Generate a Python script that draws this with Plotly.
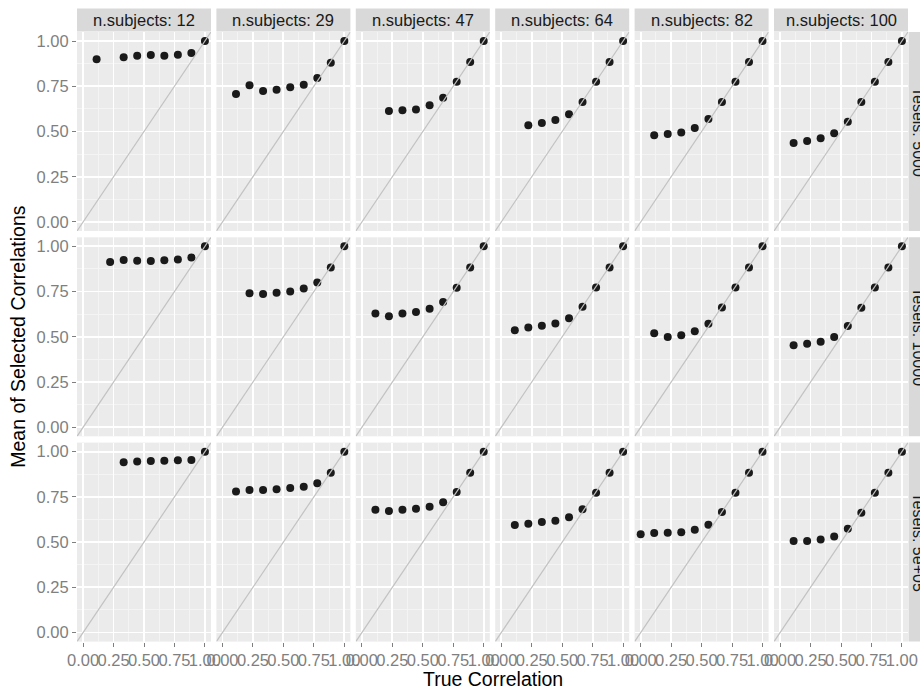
import plotly.graph_objects as go

# ---- data ----
true_corr = [0.0, 0.111, 0.222, 0.333, 0.444, 0.556, 0.667, 0.778, 0.889, 1.0]
n_subjects = [12, 29, 47, 64, 82, 100]
n_tests_labels = ["5000", "10000", "5e+05"]

row_5000 = {
    12:  [None, 0.900, None, 0.910, 0.919, 0.923, 0.919, 0.924, 0.934, 1.0],
    29:  [None, 0.707, 0.755, 0.724, 0.731, 0.744, 0.759, 0.796, 0.880, 1.0],
    47:  [None, None, 0.613, 0.617, 0.622, 0.645, 0.687, 0.775, 0.884, 1.0],
    64:  [None, None, 0.534, 0.547, 0.564, 0.595, 0.663, 0.775, 0.884, 1.0],
    82:  [None, 0.479, 0.486, 0.495, 0.519, 0.569, 0.663, 0.775, 0.884, 1.0],
    100: [None, 0.436, 0.448, 0.462, 0.490, 0.554, 0.663, 0.775, 0.884, 1.0],
}
row_10000 = {
    12:  [None, None, 0.914, 0.925, 0.921, 0.919, 0.923, 0.927, 0.938, 1.0],
    29:  [None, None, 0.741, 0.736, 0.743, 0.750, 0.767, 0.800, 0.883, 1.0],
    47:  [None, 0.629, 0.613, 0.629, 0.637, 0.655, 0.692, 0.771, 0.883, 1.0],
    64:  [None, 0.536, 0.552, 0.561, 0.574, 0.602, 0.666, 0.772, 0.883, 1.0],
    82:  [None, 0.519, 0.499, 0.508, 0.530, 0.572, 0.662, 0.772, 0.883, 1.0],
    100: [None, 0.453, 0.461, 0.472, 0.499, 0.560, 0.661, 0.772, 0.883, 1.0],
}
row_5e05 = {
    12:  [None, None, None, 0.941, 0.945, 0.948, 0.950, 0.952, 0.954, 1.0],
    29:  [None, 0.780, 0.788, 0.788, 0.792, 0.799, 0.806, 0.825, 0.884, 1.0],
    47:  [None, 0.679, 0.672, 0.679, 0.685, 0.696, 0.720, 0.777, 0.884, 1.0],
    64:  [None, 0.594, 0.601, 0.611, 0.618, 0.637, 0.681, 0.773, 0.884, 1.0],
    82:  [0.544, 0.550, 0.552, 0.555, 0.568, 0.596, 0.666, 0.773, 0.884, 1.0],
    100: [None, 0.506, 0.506, 0.515, 0.531, 0.574, 0.662, 0.773, 0.884, 1.0],
}
rows_data = [row_5000, row_10000, row_5e05]

tick_vals = [0.0, 0.25, 0.5, 0.75, 1.0]
tick_text = ["0.00", "0.25", "0.50", "0.75", "1.00"]
minor_vals = [0.125, 0.375, 0.625, 0.875]
axis_range = [-0.05, 1.05]

# ---- layout geometry (pixels) ----
W, H = 920, 691
col_left = [77 + 139.4 * i for i in range(6)]
col_w = 134
row_top = [32, 237.3, 442.6]
row_h = 199

def px_x(p):
    return p / W

def px_y(p):
    return 1 - p / H

FONT = "Liberation Sans, Arial, Helvetica, sans-serif"
PANEL_BG = "#EBEBEB"
STRIP_BG = "#D9D9D9"
TICK_GREY = "#7F7F7F"
TICK_SIZE = 16.5

fig = go.Figure()
layout = dict(
    width=W, height=H,
    margin=dict(l=0, r=0, t=0, b=0),
    paper_bgcolor="white",
    plot_bgcolor=PANEL_BG,
    showlegend=False,
    font=dict(family=FONT, color="#1A1A1A"),
)

shapes = []
annotations = []

k = 0
for r in range(3):
    for c in range(6):
        k += 1
        suffix = "" if k == 1 else str(k)
        xa = "x" + suffix
        ya = "y" + suffix
        n = n_subjects[c]
        yvals = rows_data[r][n]

        fig.add_trace(go.Scatter(
            x=true_corr, y=yvals, mode="markers",
            marker=dict(size=8, color="#1A1A1A", line=dict(width=0)),
            xaxis=xa, yaxis=ya, cliponaxis=False, hoverinfo="skip",
        ))
        # identity line drawn over the points
        fig.add_trace(go.Scatter(
            x=axis_range, y=axis_range, mode="lines",
            line=dict(color="#C2C2C2", width=1.2),
            xaxis=xa, yaxis=ya, hoverinfo="skip",
        ))

        x0, x1 = col_left[c], col_left[c] + col_w
        y0, y1 = row_top[r], row_top[r] + row_h
        bottom = (r == 2)
        left = (c == 0)

        layout["xaxis" + suffix] = dict(
            domain=[px_x(x0), px_x(x1)], anchor=ya, range=axis_range,
            tickmode="array", tickvals=tick_vals, ticktext=tick_text,
            showticklabels=bottom, ticks="outside" if bottom else "",
            ticklen=4, tickwidth=1, tickcolor=TICK_GREY, tickangle=0,
            tickfont=dict(family=FONT, size=TICK_SIZE, color=TICK_GREY),
            showgrid=True, gridcolor="white", gridwidth=1.8,
            minor=dict(tickmode="array", tickvals=minor_vals, showgrid=True,
                       gridcolor="#F5F5F5", gridwidth=0.9, ticks=""),
            zeroline=False, showline=False, automargin=False, fixedrange=True,
        )
        layout["yaxis" + suffix] = dict(
            domain=[px_y(y1), px_y(y0)], anchor=xa, range=axis_range,
            tickmode="array", tickvals=tick_vals, ticktext=tick_text,
            showticklabels=left, ticks="outside" if left else "",
            ticklen=4, tickwidth=1, tickcolor=TICK_GREY,
            tickfont=dict(family=FONT, size=TICK_SIZE, color=TICK_GREY),
            showgrid=True, gridcolor="white", gridwidth=1.8,
            minor=dict(tickmode="array", tickvals=minor_vals, showgrid=True,
                       gridcolor="#F5F5F5", gridwidth=0.9, ticks=""),
            zeroline=False, showline=False, automargin=False, fixedrange=True,
        )

# top strips
for c in range(6):
    x0, x1 = col_left[c], col_left[c] + col_w
    shapes.append(dict(type="rect", xref="paper", yref="paper",
                       x0=px_x(x0), x1=px_x(x1), y0=px_y(31.5), y1=px_y(8.5),
                       fillcolor=STRIP_BG, line=dict(width=0), layer="below"))
    annotations.append(dict(xref="paper", yref="paper",
                            x=px_x((x0 + x1) / 2), y=px_y(20),
                            text="n.subjects: %d" % n_subjects[c],
                            showarrow=False, xanchor="center", yanchor="middle",
                            font=dict(family=FONT, size=16.5, color="#1A1A1A")))

# right strips (clipped by the figure edge, as in the original)
for r in range(3):
    y0, y1 = row_top[r], row_top[r] + row_h
    shapes.append(dict(type="rect", xref="paper", yref="paper",
                       x0=px_x(908.5), x1=px_x(935), y0=px_y(y1), y1=px_y(y0),
                       fillcolor=STRIP_BG, line=dict(width=0), layer="below"))
    annotations.append(dict(xref="paper", yref="paper",
                            x=px_x(918.5), y=px_y((y0 + y1) / 2),
                            text="Tesels: " + n_tests_labels[r], textangle=90,
                            showarrow=False, xanchor="center", yanchor="middle",
                            font=dict(family=FONT, size=16, color="#1A1A1A")))

# axis titles
annotations.append(dict(xref="paper", yref="paper",
                        x=px_x((col_left[0] + col_left[5] + col_w) / 2), y=px_y(679),
                        text="True Correlation", showarrow=False,
                        xanchor="center", yanchor="middle",
                        font=dict(family=FONT, size=19.5, color="black")))
annotations.append(dict(xref="paper", yref="paper",
                        x=px_x(18), y=px_y((row_top[0] + row_top[2] + row_h) / 2),
                        text="Mean of Selected Correlations", textangle=-90,
                        showarrow=False, xanchor="center", yanchor="middle",
                        font=dict(family=FONT, size=19.5, color="black")))

layout["shapes"] = shapes
layout["annotations"] = annotations
fig.update_layout(**layout)

fig.write_html(
    "out.html",
    config={"displayModeBar": False, "staticPlot": True},
    post_script="document.body.style.margin='0';document.body.style.padding='0';"
                "document.body.style.overflow='hidden';",
)
